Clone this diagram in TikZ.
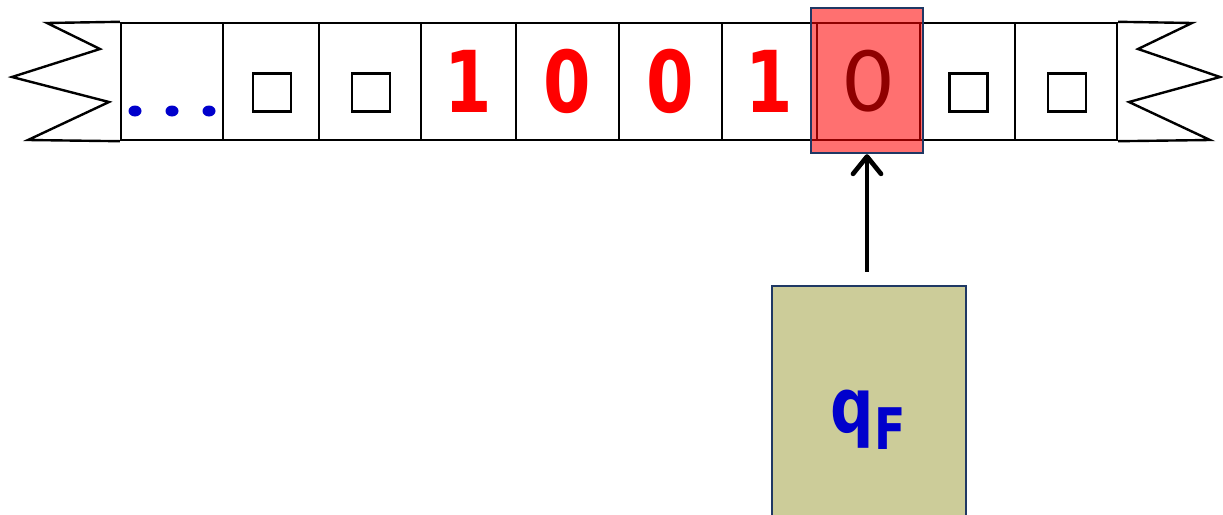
\documentclass[tikz,border=0pt]{standalone}
\usepackage{fontspec}
\usetikzlibrary{arrows.meta,calc}
\newfontfamily\tapefont{DejaVu Sans}
\newfontfamily\bitfont[FakeStretch=0.8]{DejaVu Sans}
\newfontfamily\headfont{Carlito}
\definecolor{symbolblue}{RGB}{0,0,204}
\definecolor{frameblue}{RGB}{31,56,100}
\definecolor{machineolive}{RGB}{204,204,153}
\def\tapetop{23}
\def\tapebot{140}
\def\tapemid{81.5}

\tikzset{
  cell/.style={draw,line width=1.8pt,minimum height=87.75pt,inner sep=0pt},
  blank/.style={draw,line width=1.8pt,minimum size=28.5pt,inner sep=0pt},
  bit/.style={text=red,font=\bitfont\bfseries\fontsize{64}{64}\selectfont,inner sep=0pt},
}

\begin{document}
\begin{tikzpicture}[x=0.75pt,y=-0.75pt,line width=1.8pt]
  \clip (0,0) rectangle (1223,514);
  % tape cells
  \foreach \xa/\xb [count=\n] in {121/223,223/319,319/421,421/516,516/619,619/722,722/817,817/920,920/1015,1015/1117}
    \node[cell,minimum width={(\xb-\xa)*0.75pt}] (c\n) at ({(\xa+\xb)/2},\tapemid) {};
  % torn ends
  \draw (c1.north west) -- (47,\tapetop) -- (100,49) -- (12,77) -- (109,102) -- (28,\tapebot) -- (c1.south west);
  \draw (c10.north east) -- (1192,\tapetop) -- (1138,49) -- (1220,77) -- (1129,102) -- (1210,\tapebot) -- (c10.south east);
  % symbols
  \foreach \x in {135,172,209} \fill[symbolblue] (\x,111) ellipse (6.5 and 5.5);
  \foreach \n in {2,3,9,10} \node[blank] (b\n) at ($(c\n.center)+(1,11)$) {};
  \foreach \n/\d in {4/1,5/0,6/0,7/1} \node[bit] (d\n) at (c\n) {\d};
  \node[font=\headfont\fontsize{71}{71}\selectfont,inner sep=0pt] (d8) at (c8) {0};
  % head
  \node[draw=frameblue,fill=red,fill opacity=0.56,line width=1.8pt,minimum width=84pt,minimum height=108.75pt] (head) at (867,80.5) {};
  % control unit
  \node[draw=frameblue,fill=machineolive,line width=1.8pt,minimum width=145.5pt,minimum height=201.75pt] (machine) at (869,420.5) {};
  \node[text=symbolblue,font=\bitfont\bfseries] (state) at (868,420) {\fontsize{57}{57}\selectfont q\raisebox{-13pt}{\fontsize{43}{43}\selectfont F}};
  \draw[line width=3.5pt,-{Straight Barb[length=13pt,width=21pt,round]}] ([yshift=9.75pt]machine.north -| head.south) -- (head.south);
\end{tikzpicture}
\end{document}
